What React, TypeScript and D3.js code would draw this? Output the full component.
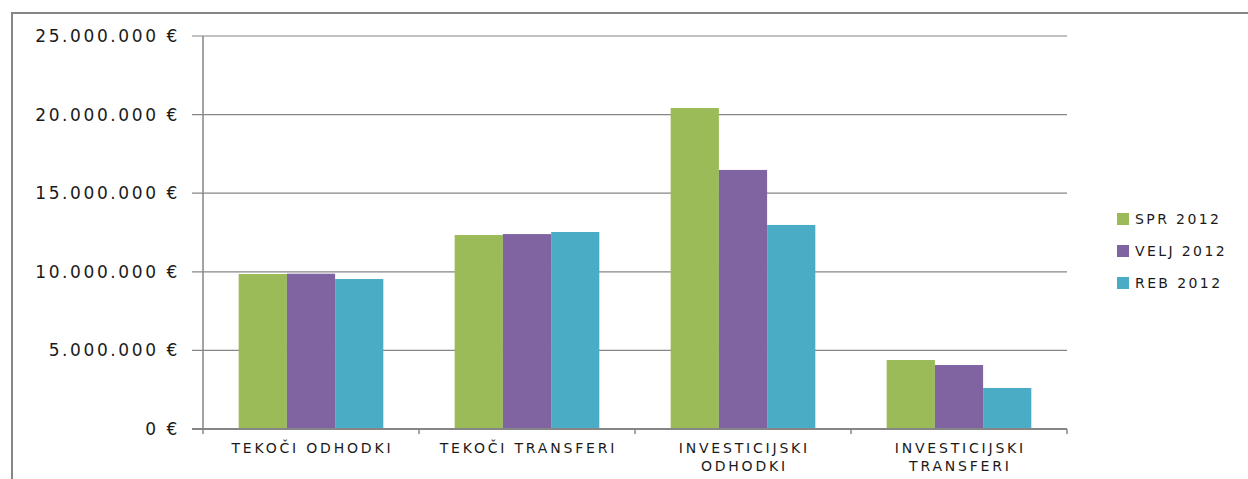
import React from "react";
import * as d3 from "d3";

const categories: string[][] = [
  ["TEKOČI ODHODKI"],
  ["TEKOČI TRANSFERI"],
  ["INVESTICIJSKI", "ODHODKI"],
  ["INVESTICIJSKI", "TRANSFERI"],
];
const seriesNames = ["SPR 2012", "VELJ 2012", "REB 2012"];
const seriesColors = ["#9BBB59", "#8064A2", "#4BACC6"];
const spr2012 = [9860000, 12340000, 20420000, 4390000];
const velj2012 = [9880000, 12400000, 16480000, 4070000];
const reb2012 = [9540000, 12530000, 12980000, 2610000];
const yTicks = [0, 5000000, 10000000, 15000000, 20000000, 25000000];
const yTickLabels = ["0 €", "5.000.000 €", "10.000.000 €", "15.000.000 €", "20.000.000 €", "25.000.000 €"];

const W = 1248;
const H = 479;
const left = 203;
const right = 1067;
const top = 36;
const bottom = 429;
const grid = "#868686";
const font = "DejaVu Sans, Verdana, sans-serif";

export default function App() {
  const series = [spr2012, velj2012, reb2012];
  const x = d3
    .scaleBand<number>()
    .domain(categories.map((_, i) => i))
    .range([left, right])
    .paddingInner(0)
    .paddingOuter(0);
  const x1 = d3
    .scaleBand<number>()
    .domain(seriesNames.map((_, i) => i))
    .range([0, x.bandwidth()])
    .paddingInner(0)
    .paddingOuter(0.74);
  const y = d3.scaleLinear().domain([0, 25000000]).range([bottom, top]);

  const boundaries = d3.range(categories.length + 1).map((i) =>
    i < categories.length ? (x(i) as number) : (x(categories.length - 1) as number) + x.bandwidth()
  );

  return (
    <svg
      width={W}
      height={H}
      style={{ position: "absolute", left: 0, top: 0, background: "#fff" }}
      fontFamily={font}
    >
      <rect x={0} y={0} width={W} height={H} fill="#fff" />
      {/* outer frame */}
      <rect x={12} y={13} width={W + 20} height={H + 20} fill="none" stroke={grid} strokeWidth={2} />

      {/* gridlines */}
      {yTicks.map((t, i) =>
        i === 0 ? null : (
          <line key={t} x1={left - 11} x2={right} y1={y(t)} y2={y(t)} stroke={grid} strokeWidth={1.2} />
        )
      )}

      {/* bars */}
      {series.map((vals, si) =>
        vals.map((v, ci) => (
          <rect
            key={`${si}-${ci}`}
            x={(x(ci) as number) + (x1(si) as number)}
            y={y(v)}
            width={x1.bandwidth()}
            height={bottom - y(v)}
            fill={seriesColors[si]}
          />
        ))
      )}

      {/* y axis */}
      <line x1={left} x2={left} y1={top} y2={bottom} stroke={grid} strokeWidth={1.5} />
      {/* x axis */}
      <line x1={left - 11} x2={right} y1={bottom} y2={bottom} stroke={grid} strokeWidth={2} />
      {boundaries.map((bx, i) => (
        <line key={i} x1={bx} x2={bx} y1={bottom} y2={bottom + 5} stroke={grid} strokeWidth={1.5} />
      ))}

      {/* y labels */}
      {yTicks.map((t, i) => (
        <text
          key={t}
          x={180}
          y={y(t) + 6}
          textAnchor="end"
          fontSize={17}
          letterSpacing={2.6}
          fill="#1a1a1a"
        >
          {yTickLabels[i]}
        </text>
      ))}

      {/* category labels */}
      {categories.map((lines, ci) =>
        lines.map((ln, li) => (
          <text
            key={`${ci}-${li}`}
            x={(x(ci) as number) + x.bandwidth() / 2 + 1.4}
            y={453 + li * 18}
            textAnchor="middle"
            fontSize={14}
            letterSpacing={2.8}
            fill="#1a1a1a"
          >
            {ln}
          </text>
        ))
      )}

      {/* legend */}
      {seriesNames.map((n, i) => (
        <g key={n} transform={`translate(1117, ${219 + i * 32})`}>
          <rect x={0} y={-6} width={12} height={12} fill={seriesColors[i]} />
          <text x={18} y={5} fontSize={14} letterSpacing={2.4} fill="#1a1a1a">
            {n}
          </text>
        </g>
      ))}
    </svg>
  );
}
